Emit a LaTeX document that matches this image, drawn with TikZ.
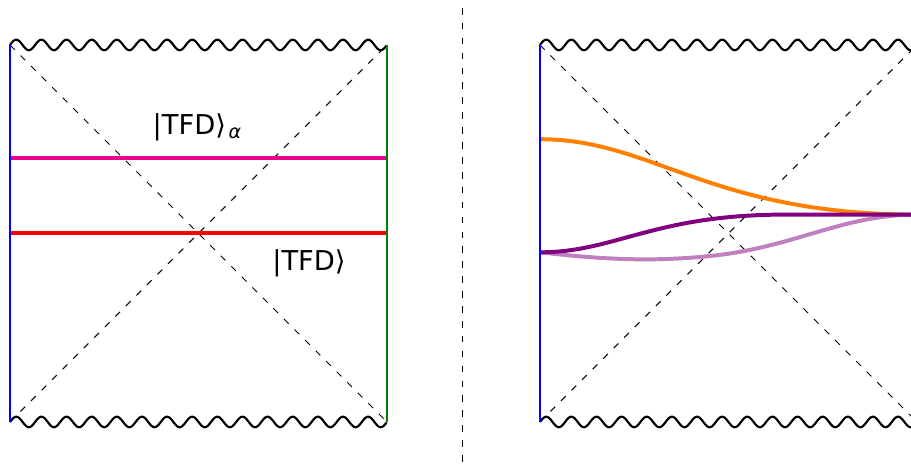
\documentclass[tikz,border=0pt]{standalone}
\usepackage{fontspec}
\setmainfont{DejaVu Sans}
\usepackage{tikz}
\usepackage{xcolor}
\definecolor{blue}{RGB}{0,0,255}
\definecolor{red}{RGB}{255,0,0}
\definecolor{green}{RGB}{0,128,0}
\definecolor{pink}{RGB}{235,0,140}
\definecolor{orange}{RGB}{255,128,0}
\definecolor{purple}{RGB}{128,0,128}
\definecolor{lightpurple}{RGB}{192,128,192}
\tikzset{
  sing/.style={line width=1.3pt, line join=round},
  horizon/.style={line width=0.6pt, dash pattern=on 4pt off 5pt},
  slice/.style={line width=2.4pt},
  bdry/.style={line width=1.2pt}
}

\begin{document}
\begin{tikzpicture}[x=2cm, y=2cm, font=\fontsize{16.5}{20}\selectfont]
  \useasboundingbox (-0.106,-0.446) rectangle (9.560,4.477);
  %% Left diagram: two sided black hole
  \draw[sing] plot[domain=0:4, samples=301] (\x, {4+0.056*sin(1350*\x)});
  \draw[sing] plot[domain=0:4, samples=301] (\x, {0.056*sin(1350*\x)});
  \draw[horizon] (0,0) -- (4,4);
  \draw[horizon] (0,4) -- (4,0);
  %% Time slices
  \draw[slice, pink] (0,2.8) -- (4,2.8);
  \draw[slice, red] (0,2) -- (4,2);
  \draw[bdry, blue] (0,0) -- (0,4);
  \draw[bdry, green] (4,0) -- (4,4);
  \node[anchor=base west, inner sep=0] (tfdalpha) at (1.51,3.045)
    {|TFD⟩\hspace{0.1em}\raisebox{-2.4pt}{\fontsize{11.5}{12}\selectfont\itshape α}};
  \node[anchor=base west, inner sep=0] (tfd) at (2.78,1.61) {|TFD⟩};

  %% Separator
  \draw[horizon] (4.806,4.393) -- (4.806,-0.5);

  %% Right diagram
  \begin{scope}[shift={(5.623,0)}]
    \draw[sing] plot[domain=0:4, samples=301] (\x, {4+0.056*sin(1350*\x)});
    \draw[sing] plot[domain=0:4, samples=301] (\x, {0.056*sin(1350*\x)});
    \draw[horizon] (0,0) -- (4,4);
    \draw[horizon] (0,4) -- (4,0);
    \draw[slice, orange] (0,3) .. controls (1.2,3) and (1.8,2.2) .. (4,2.2);
    \draw[slice, lightpurple] (0,1.8) .. controls (0.7,1.72) and (1.2,1.7) .. (1.8,1.76)
      .. controls (2.7,1.85) and (3.2,2.2) .. (4,2.2);
    \draw[slice, purple] (0,1.8) .. controls (0.8,1.8) and (1.2,2.2) .. (2.6,2.2) -- (4,2.2);
    \draw[bdry, blue] (0,0) -- (0,4);
  \end{scope}
\end{tikzpicture}
\end{document}
